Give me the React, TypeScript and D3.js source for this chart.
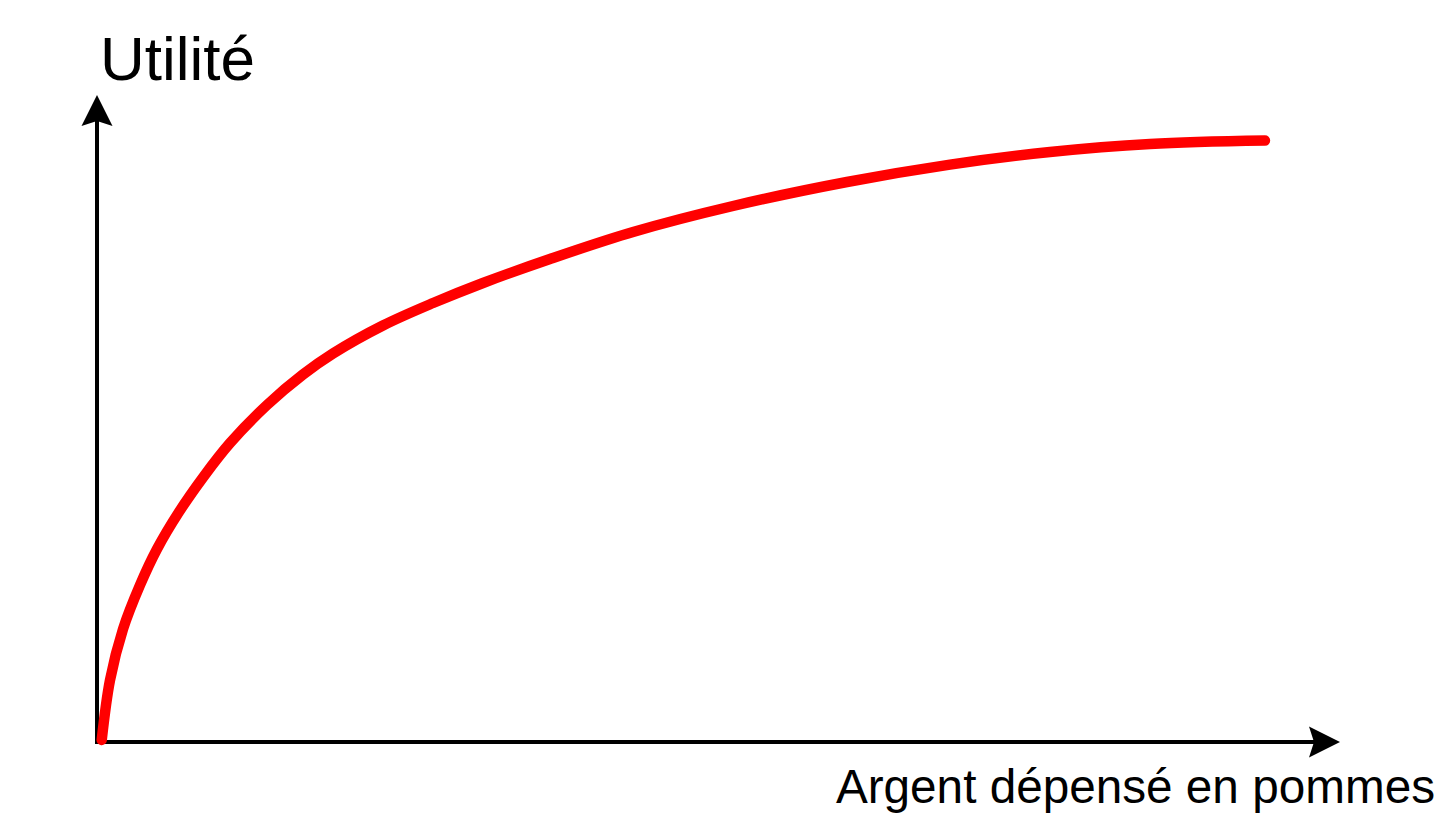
import React from "react";
import * as d3 from "d3";

// Money spent on apples (arbitrary units, 0–100)
const money: number[] = [0.3, 0.97, 2.02, 3.39, 4.76, 6.53, 8.55, 10.65, 13.63, 16.53, 18.95, 22.98, 27.02, 31.05, 36.45, 43.15, 51.21, 60.4, 68.71, 76.77, 84.84, 94.11];
// Utility (arbitrary units, 0–100)
const utility: number[] = [0.31, 9.69, 17.66, 24.53, 30.16, 35.94, 41.56, 46.72, 52.66, 57.42, 60.7, 65.08, 68.59, 71.72, 75.47, 79.69, 83.75, 87.5, 90.22, 92.19, 93.44, 93.97];

const xLabel = "Argent dépensé en pommes";
const yLabel = "Utilité";

const W = 1456;
const H = 819;

export default function App() {
  const x = d3.scaleLinear().domain([0, 100]).range([98, 1338]);
  const y = d3.scaleLinear().domain([0, 100]).range([742, 102]);

  const pts: [number, number][] = money.map((m, i) => [m, utility[i]]);
  const line = d3
    .line<[number, number]>()
    .x((d) => x(d[0]))
    .y((d) => y(d[1]))
    .curve(d3.curveCatmullRom.alpha(0.5));

  const ox = x(0) - 1;
  const oy = y(0);
  const xTip = 1340;
  const yTip = 95;
  const aL = 31; // arrow length
  const aW = 15.5; // half width
  const aN = 26; // notch

  const xArrow = `M${xTip},${oy} L${xTip - aL},${oy - aW} L${xTip - aN},${oy} L${xTip - aL},${oy + aW} Z`;
  const yArrow = `M${ox},${yTip} L${ox - aW},${yTip + aL} L${ox},${yTip + aN} L${ox + aW},${yTip + aL} Z`;

  return (
    <svg
      width={W}
      height={H}
      style={{ position: "absolute", left: 0, top: 0, display: "block", background: "#fff" }}
    >
      <line x1={ox} y1={oy} x2={xTip - aN + 2} y2={oy} stroke="#000" strokeWidth={4} />
      <line x1={ox} y1={oy + 2} x2={ox} y2={yTip + aN - 2} stroke="#000" strokeWidth={4} />
      <path d={xArrow} fill="#000" />
      <path d={yArrow} fill="#000" />
      <path
        d={line(pts) || ""}
        fill="none"
        stroke="#ff0000"
        strokeWidth={10.5}
        strokeLinecap="round"
        strokeLinejoin="round"
      />
      <text
        x={100}
        y={80}
        fontFamily="'Liberation Sans', Arial, sans-serif"
        fontSize={62}
        fill="#000"
      >
        {yLabel}
      </text>
      <text
        x={1435}
        y={803}
        textAnchor="end"
        fontFamily="'Liberation Sans', Arial, sans-serif"
        fontSize={47.7}
        fill="#000"
      >
        {xLabel}
      </text>
    </svg>
  );
}
